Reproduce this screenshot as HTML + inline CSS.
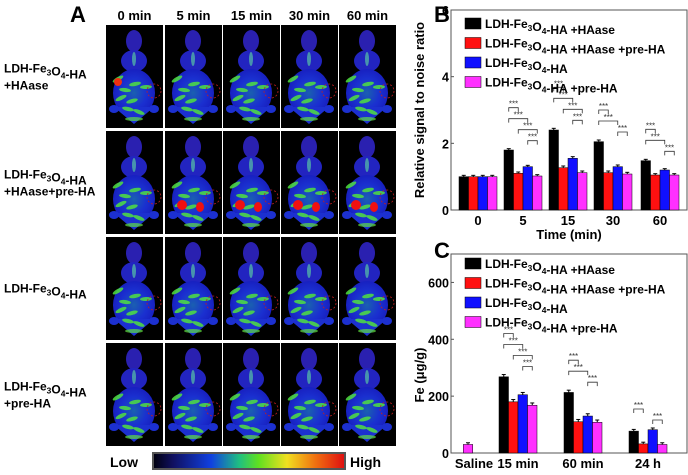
<!DOCTYPE html>
<html><head><meta charset="utf-8">
<style>
body{margin:0;background:#fff;width:688px;height:475px;overflow:hidden;font-family:"Liberation Sans",Arial,sans-serif;}
svg{position:absolute;left:0;top:0}
</style></head>
<body>
<svg id="fig" width="688" height="475" viewBox="0 0 688 475">
<defs>
<linearGradient id="cbar" x1="0" x2="1" y1="0" y2="0">
<stop offset="0" stop-color="#000010"/><stop offset="0.1" stop-color="#101060"/><stop offset="0.3" stop-color="#1040e0"/>
<stop offset="0.45" stop-color="#20c080"/><stop offset="0.55" stop-color="#60e020"/><stop offset="0.7" stop-color="#f0e020"/>
<stop offset="0.85" stop-color="#f07010"/><stop offset="1" stop-color="#e01010"/></linearGradient>
<radialGradient id="bodyg" cx="0.5" cy="0.5" r="0.5"><stop offset="0" stop-color="#1a60b0"/><stop offset="0.6" stop-color="#1a30d0"/><stop offset="1" stop-color="#1820c0"/></radialGradient>
</defs>
<g id="panelA"></g>
<g id="panelB"></g>
<g id="panelC"></g>
</svg>
<script>
// ---------- Panel B data ----------
const bCategories = ["0","5","15","30","60"];
const bSeriesNames = ["LDH-Fe3O4-HA+HAase","LDH-Fe3O4-HA+HAase+pre-HA","LDH-Fe3O4-HA","LDH-Fe3O4-HA+pre-HA"];
const bS1 = [1.0,1.8,2.4,2.05,1.48];
const bS2 = [1.0,1.1,1.27,1.12,1.05];
const bS3 = [1.0,1.3,1.55,1.3,1.2];
const bS4 = [1.0,1.02,1.12,1.08,1.05];
const bErr = [0.04,0.04,0.05,0.05,0.04];
const bTicks = [0,2,4,6];
// ---------- Panel C data ----------
const cCategories = ["Saline","15 min","60 min","24 h"];
const cS1 = [null,268,213,77];
const cS2 = [null,180,110,32];
const cS3 = [null,205,130,82];
const cS4 = [30,168,108,30];
const cErr = [6,8,8,6];
const cTicks = [0,200,400,600];

const colors = ["#000000","#ff1010","#1010ff","#ff30ff"];
const NS = "http://www.w3.org/2000/svg";
function mk(parent, tag, attrs){const e=document.createElementNS(NS,tag);for(const k in attrs)e.setAttribute(k,attrs[k]);parent.appendChild(e);return e;}

// ---------- Panel A ----------
const A = document.getElementById('panelA');
const colX=[106,165,223,281,339], rowY=[25,131,237,343], cw=57, ch=103;
const rowLabels=[["LDH-Fe3O4-HA","+HAase"],["LDH-Fe3O4-HA","+HAase+pre-HA"],["LDH-Fe3O4-HA"],["LDH-Fe3O4-HA","+pre-HA"]];
const colLabels=["0 min","5 min","15 min","30 min","60 min"];
let t=mk(A,'text',{x:70,y:22,'font-size':22,'font-weight':'bold'});t.textContent="A";

colLabels.forEach((l,i)=>{const e=mk(A,'text',{x:colX[i]+cw/2,y:20,'font-size':13,'font-weight':'bold','text-anchor':'middle'});e.textContent=l;
});
function subText(el,s){
  const parts=s.split(/(3|4)/);parts.forEach(p=>{const ts=document.createElementNS(NS,'tspan');
  if(p==="3"||p==="4"){ts.setAttribute('font-size','0.7em');ts.setAttribute('dy','3');ts.textContent=p;el.appendChild(ts);const b=document.createElementNS(NS,'tspan');b.setAttribute('dy','-3');b.textContent='';el.appendChild(b);}
  else if(p){ts.textContent=p;el.appendChild(ts);}});}
rowLabels.forEach((ls,r)=>{const cy=rowY[r]+ch/2-(ls.length-1)*8+4;
  ls.forEach((l,k)=>{const e=mk(A,'text',{x:4,y:cy+k*17,'font-size':12,'font-weight':'bold'});subText(e,l);
  });});
rowY.forEach((y,r)=>colX.forEach((x,c)=>{
  const g=mk(A,'g',{transform:`translate(${x},${y})`});
  
  mk(g,'rect',{x:0,y:0,width:cw,height:ch,fill:'#000'});
  mk(g,'ellipse',{cx:28,cy:16,rx:8,ry:11,fill:'#2a20b0'});
  mk(g,'ellipse',{cx:28,cy:36,rx:13,ry:11,fill:'#2224c0'});
  mk(g,'ellipse',{cx:28,cy:68,rx:21,ry:24,fill:'url(#bodyg)'});
  mk(g,'path',{d:'M8 82 L28 99 L48 82 Z',fill:'#1c30d0'});
  mk(g,'ellipse',{cx:8,cy:84,rx:5,ry:4,fill:'#1c30d0'});
  mk(g,'ellipse',{cx:48,cy:84,rx:5,ry:4,fill:'#1c30d0'});
  for(let k=0;k<8;k++){const px=12+(k*7)%32, py=54+(k*11)%36;
    mk(g,'ellipse',{cx:px,cy:py,rx:6,ry:2,fill:'#50e040',opacity:0.85,transform:`rotate(${(k*37)%60-30} ${px} ${py})`});}
  mk(g,'ellipse',{cx:28,cy:94,rx:9,ry:2,fill:'#60e040',opacity:0.7});
  if(r===1&&c>0){mk(g,'ellipse',{cx:17,cy:74,rx:5,ry:5,fill:'#f01010'});mk(g,'ellipse',{cx:35,cy:76,rx:4,ry:5,fill:'#f01010'});}
  if(r===0&&c===0){mk(g,'circle',{cx:12,cy:57,r:4,fill:'#f03010'});}
  mk(g,'circle',{cx:48,cy:66,r:7,fill:'none',stroke:'#c02020','stroke-dasharray':'2 2','stroke-width':0.8});
  mk(g,'ellipse',{cx:28,cy:34,rx:2,ry:7,fill:'#60e0a0',opacity:0.6});
}));
mk(A,'rect',{x:152,y:452,width:194,height:18,fill:'#555'});
const cb=mk(A,'rect',{x:154,y:454,width:190,height:14,fill:'url(#cbar)'});

t=mk(A,'text',{x:110,y:467,'font-size':14,'font-weight':'bold'});t.textContent="Low";
t=mk(A,'text',{x:350,y:467,'font-size':14,'font-weight':'bold'});t.textContent="High";

// ---------- generic bar chart ----------
function chart(G,opt){
  const {x0,x1,yTop,yBot,vmax,ticks,cats,centers,series,err,legendY,title,xTitle,letter,letterY,ytitleY,brackets}=opt;
  const ys=v=>yBot-(v/vmax)*(yBot-yTop);
  const fr=mk(G,'rect',{x:x0,y:yTop,width:x1-x0,height:yBot-yTop,fill:'none',stroke:'#555','stroke-width':1});
  
  ticks.forEach(v=>{mk(G,'line',{x1:x0,x2:x0+3,y1:ys(v),y2:ys(v),stroke:'#555'});
    const e=mk(G,'text',{x:x0-2,y:ys(v)+5,'font-size':12.5,'font-weight':'bold','text-anchor':'end'});e.textContent=v;
    });
  const bw=9.5;
  cats.forEach((c,i)=>{
    const e=mk(G,'text',{x:centers[i],y:yBot+15,'font-size':13,'font-weight':'bold','text-anchor':'middle'});e.textContent=c;
    
    series.forEach((s,k)=>{const v=s[i];if(v==null)return;
      const single=series.filter(q=>q[i]!=null).length===1;
      const bx=single?centers[i]-bw/2-6:centers[i]-2*bw+k*bw;
      const b=mk(G,'rect',{x:bx,y:ys(v),width:bw,height:yBot-ys(v),fill:colors[k],stroke:'#000','stroke-width':0.5});
      
      mk(G,'line',{x1:bx+bw/2,x2:bx+bw/2,y1:ys(v+err[i]),y2:ys(v),stroke:'#000','stroke-width':1});
      mk(G,'line',{x1:bx+bw/2-2,x2:bx+bw/2+2,y1:ys(v+err[i]),y2:ys(v+err[i]),stroke:'#000','stroke-width':1});
    });
    (brackets[i]||[]).forEach((p,j)=>{
      const [a,b2]=p;const xa=centers[i]-2*bw+a*bw+bw/2, xb=centers[i]-2*bw+b2*bw+bw/2;
      const top=Math.max(...series.map(s=>s[i]||0))+err[i];
      const yy=ys(top)-8-(brackets[i].length-1-j)*11;
      mk(G,'path',{d:`M${xa} ${yy+4} V${yy} H${xb} V${yy+4}`,fill:'none',stroke:'#333','stroke-width':0.8});
      const st=mk(G,'text',{x:(xa+xb)/2,y:yy-1,'font-size':8,'text-anchor':'middle',fill:'#333'});st.textContent="***";
      
    });
  });
  bSeriesNames.forEach((n,k)=>{const ly=legendY+k*19.5;
    const sw=mk(G,'rect',{x:x0+14,y:ly-6,width:16,height:11,fill:colors[k],stroke:'#000','stroke-width':0.5});
    
    const e=mk(G,'text',{x:x0+34,y:ly+4,'font-size':12,'font-weight':'bold'});subText(e,n.replace('HA+','HA +').replace('HAase+','HAase +'));
    });
  let e=mk(G,'text',{x:0,y:0,'font-size':13,'font-weight':'bold','text-anchor':'middle',transform:`translate(${x0-27},${ytitleY}) rotate(-90)`});e.textContent=title;
  
  if(xTitle){e=mk(G,'text',{x:(x0+x1)/2,y:yBot+29,'font-size':13,'font-weight':'bold','text-anchor':'middle'});e.textContent=xTitle;
  }
  e=mk(G,'text',{x:x0-17,y:letterY,'font-size':22,'font-weight':'bold'});e.textContent=letter;
  
}
chart(document.getElementById('panelB'),{x0:451,x1:687,yTop:10,yBot:210,vmax:6,ticks:bTicks,cats:bCategories,
  centers:[478,523,568,613,660],series:[bS1,bS2,bS3,bS4],err:bErr,legendY:24,
  title:"Relative signal to noise ratio",xTitle:"Time (min)",letter:"B",letterY:22,ytitleY:110,
  brackets:[[],[[0,1],[0,2],[1,3],[2,3]],[[0,1],[0,2],[1,3],[2,3]],[[0,1],[0,2],[2,3]],[[0,1],[0,2],[2,3]]]});
chart(document.getElementById('panelC'),{x0:451,x1:687,yTop:254,yBot:453,vmax:700,ticks:cTicks,cats:cCategories,
  centers:[474,518,583,648],series:[cS1,cS2,cS3,cS4],err:cErr,legendY:264,
  title:"Fe (μg/g)",xTitle:null,letter:"C",letterY:258,ytitleY:375,
  brackets:[[],[[0,1],[0,2],[1,3],[2,3]],[[0,1],[0,2],[2,3]],[[0,1],[2,3]]]});
</script>
</body></html>
